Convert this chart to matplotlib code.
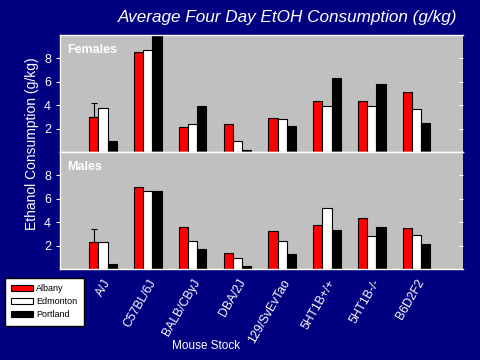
import numpy as np
import matplotlib.pyplot as plt

plt.rcParams["font.family"] = ["Liberation Sans", "DejaVu Sans"]

NAVY = "#000080"
PANEL = "#C0C0C0"

strains = ["A/J", "C57BL/6J", "BALB/CByJ", "DBA/2J", "129/SvEvTao",
           "5HT1B+/+", "5HT1B-/-", "B6D2F2"]
sites = ["Albany", "Edmonton", "Portland"]
site_colors = ["#FF0000", "#FFFFFF", "#000000"]

# females (g/kg)
fem_albany = [3.0, 8.55, 2.15, 2.4, 2.9, 4.4, 4.4, 5.1]
fem_edmonton = [3.75, 8.7, 2.4, 0.95, 2.8, 3.95, 3.95, 3.7]
fem_portland = [0.9, 10.0, 3.9, 0.2, 2.2, 6.35, 5.85, 2.45]
fem_err_aj = 1.2

# males (g/kg)
male_albany = [2.3, 7.0, 3.55, 1.35, 3.25, 3.75, 4.35, 3.5]
male_edmonton = [2.3, 6.7, 2.35, 0.9, 2.35, 5.2, 2.8, 2.9]
male_portland = [0.4, 6.65, 1.7, 0.25, 1.3, 3.35, 3.6, 2.15]
male_err_aj = 1.1

fig = plt.figure(figsize=(4.8, 3.6), dpi=100, facecolor=NAVY)
ax_f = fig.add_axes([0.125, 0.5778, 0.84, 0.325])
ax_m = fig.add_axes([0.125, 0.2528, 0.84, 0.325])

x = np.arange(1, len(strains) + 1)
w = 0.205

panels = [
    (ax_f, "Females", [fem_albany, fem_edmonton, fem_portland], fem_err_aj),
    (ax_m, "Males", [male_albany, male_edmonton, male_portland], male_err_aj),
]
for ax, label, series, err in panels:
    ax.set_facecolor(PANEL)
    for i, (vals, col) in enumerate(zip(series, site_colors)):
        ax.bar(x + (i - 1) * w, vals, w, color=col, edgecolor="black",
               linewidth=0.8, label=sites[i], zorder=2)
    # error bar on A/J Albany only (upper half)
    ax.errorbar([x[0] - w], [series[0][0]], yerr=[[0], [err]], fmt="none",
                ecolor="black", elinewidth=0.8, capsize=2.5, capthick=0.8, zorder=3)
    ax.set_xlim(0.04, 9.04)
    ax.set_ylim(0, 10)
    ax.set_yticks([2, 4, 6, 8])
    ax.tick_params(axis="y", colors="white", labelcolor="white", labelsize=9,
                   length=3, direction="out")
    ax.tick_params(axis="x", length=0)
    for s in ax.spines.values():
        s.set_color("white")
        s.set_linewidth(1)
    ax.spines["right"].set_visible(False)
    # small inward ticks on the right edge
    sec = ax.secondary_yaxis("right")
    sec.set_yticks([2, 4, 6, 8])
    sec.set_yticklabels([])
    sec.tick_params(colors="white", length=3, direction="in")
    sec.spines["right"].set_visible(False)
    ax.text(0.018, 0.92, label, transform=ax.transAxes, color="white",
            fontsize=9, fontweight="bold", va="top", ha="left")

ax_f.set_xticks(x)
ax_f.set_xticklabels([])
ax_m.set_xticks(x)
ax_m.set_xticklabels(strains, rotation=60, ha="right", rotation_mode="anchor",
                     color="white", fontsize=8.7)
ax_m.tick_params(axis="x", pad=6)

fig.text(0.6, 0.952, "Average Four Day EtOH Consumption (g/kg)", color="white",
         fontsize=12.3, style="italic", ha="center", va="center")
fig.text(0.066, 0.6, "Ethanol Consumption (g/kg)", color="white", fontsize=10,
         rotation=90, ha="center", va="center")
fig.text(0.43, 0.04, "Mouse Stock", color="white", fontsize=8.5,
         ha="center", va="center")

handles, labels = ax_m.get_legend_handles_labels()
leg = fig.legend(handles, labels, loc="upper left", bbox_to_anchor=(0.01, 0.228),
                 fontsize=6.5, frameon=True, fancybox=False, edgecolor="black",
                 facecolor="white", framealpha=1, handlelength=2.4,
                 handleheight=0.7, handletextpad=0.4, borderpad=0.7,
                 labelspacing=0.45, borderaxespad=0)

fig.savefig("out.png", dpi=100, facecolor=NAVY)
